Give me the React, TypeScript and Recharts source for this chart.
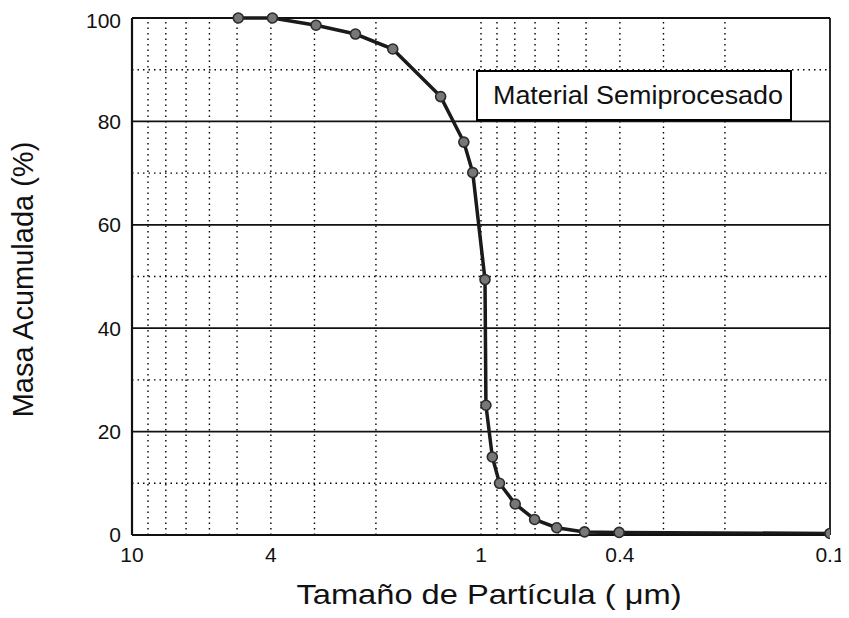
import React from "react";
import {
  LineChart,
  Line,
  XAxis,
  YAxis,
  ReferenceLine,
  Legend,
} from "recharts";

// particle size (um) and cumulative mass (%)
const sizes = [
  4.96, 3.96, 2.97, 2.29, 1.79, 1.305, 1.12, 1.056, 0.974, 0.968, 0.928, 0.885,
  0.798, 0.702, 0.607, 0.505, 0.402, 0.1,
];
const mass = [
  100, 100, 98.6, 96.9, 94.0, 84.8, 76.0, 70.1, 49.4, 25.1, 15.1, 10.0, 6.0,
  3.0, 1.4, 0.6, 0.5, 0.3,
];

const xTicks = [10, 4, 1, 0.4, 0.1];
const yTicks = [0, 20, 40, 60, 80, 100];
const xMinor = [9, 8, 7, 6, 5, 4, 3, 2, 1, 0.9, 0.8, 0.7, 0.6, 0.5, 0.4, 0.3, 0.2];
const yMajor = [20, 40, 60, 80];
const yMinor = [10, 30, 50, 70, 90];

const seriesName = "Material Semiprocesado";

const data = sizes.map((s, i) => ({ size: s, mass: mass[i] }));

const FONT = "'Liberation Sans', Arial, Helvetica, sans-serif";

const LegendBox = () => (
  <svg width={316} height={51}>
    <rect x={1} y={1} width={314} height={49} fill="#fff" stroke="#000" strokeWidth={2} />
    <text
      x={17}
      y={34}
      fontFamily={FONT}
      fontSize={25}
      fill="#111"
      textLength={290}
      lengthAdjust="spacingAndGlyphs"
    >
      {seriesName}
    </text>
  </svg>
);

const XLabel = ({ viewBox }: any) => {
  const cx = viewBox.x + viewBox.width / 2;
  return (
    <text
      x={cx + 8}
      y={596}
      textAnchor="middle"
      fontFamily={FONT}
      fontSize={28}
      fill="#111"
      textLength={385}
      lengthAdjust="spacingAndGlyphs"
    >
      Tamaño de Partícula ( μm)
    </text>
  );
};

const YLabel = ({ viewBox }: any) => {
  const cy = viewBox.y + viewBox.height / 2;
  return (
    <text
      x={25}
      y={cy + 3}
      transform={`rotate(-90, 25, ${cy + 3})`}
      textAnchor="middle"
      fontFamily={FONT}
      fontSize={29}
      fill="#111"
    >
      Masa Acumulada (%)
    </text>
  );
};

export default function App() {
  return (
    <div style={{ width: 841, height: 610, background: "#fff" }}>
      <LineChart
        width={841}
        height={610}
        data={data}
        margin={{ top: 10, right: 19, left: 0, bottom: 0 }}
      >
        {yMinor.map((v) => (
          <ReferenceLine key={`ym${v}`} y={v} stroke="#000" strokeDasharray="1.5 4" strokeWidth={1.4} />
        ))}
        {xMinor.map((v) => (
          <ReferenceLine key={`xm${v}`} x={v} stroke="#000" strokeDasharray="1.5 4" strokeWidth={1.4} />
        ))}
        {yMajor.map((v) => (
          <ReferenceLine key={`yM${v}`} y={v} stroke="#111" strokeWidth={1.8} />
        ))}
        <ReferenceLine y={100} stroke="#111" strokeWidth={2.2} />
        <ReferenceLine x={0.1} stroke="#111" strokeWidth={1.8} />
        <XAxis
          dataKey="size"
          type="number"
          scale="log"
          domain={[0.1, 10]}
          reversed
          allowDataOverflow
          ticks={xTicks}
          tickFormatter={(v) => String(v)}
          height={83}
          tickSize={0}
          tickMargin={12}
          axisLine={{ stroke: "#111", strokeWidth: 2.2 }}
          tick={{ fill: "#111", fontSize: 21, fontFamily: FONT }}
          label={<XLabel />}
        />
        <YAxis
          type="number"
          domain={[0, 100]}
          ticks={yTicks}
          width={124}
          tickSize={0}
          tickMargin={11}
          axisLine={{ stroke: "#111", strokeWidth: 2.2 }}
          tick={{ fill: "#111", fontSize: 21, fontFamily: FONT }}
          label={<YLabel />}
        />
        <Legend
          layout="horizontal"
          align="center"
          verticalAlign="middle"
          content={() => <LegendBox />}
          wrapperStyle={{ position: "absolute", left: 468, top: 62, width: 316, height: 51 }}
        />
        <Line
          dataKey="mass"
          name={seriesName}
          stroke="#1a1a1a"
          strokeWidth={3.5}
          isAnimationActive={false}
          dot={{ r: 5, fill: "#777", stroke: "#2a2a2a", strokeWidth: 1.6 }}
        />
      </LineChart>
    </div>
  );
}
